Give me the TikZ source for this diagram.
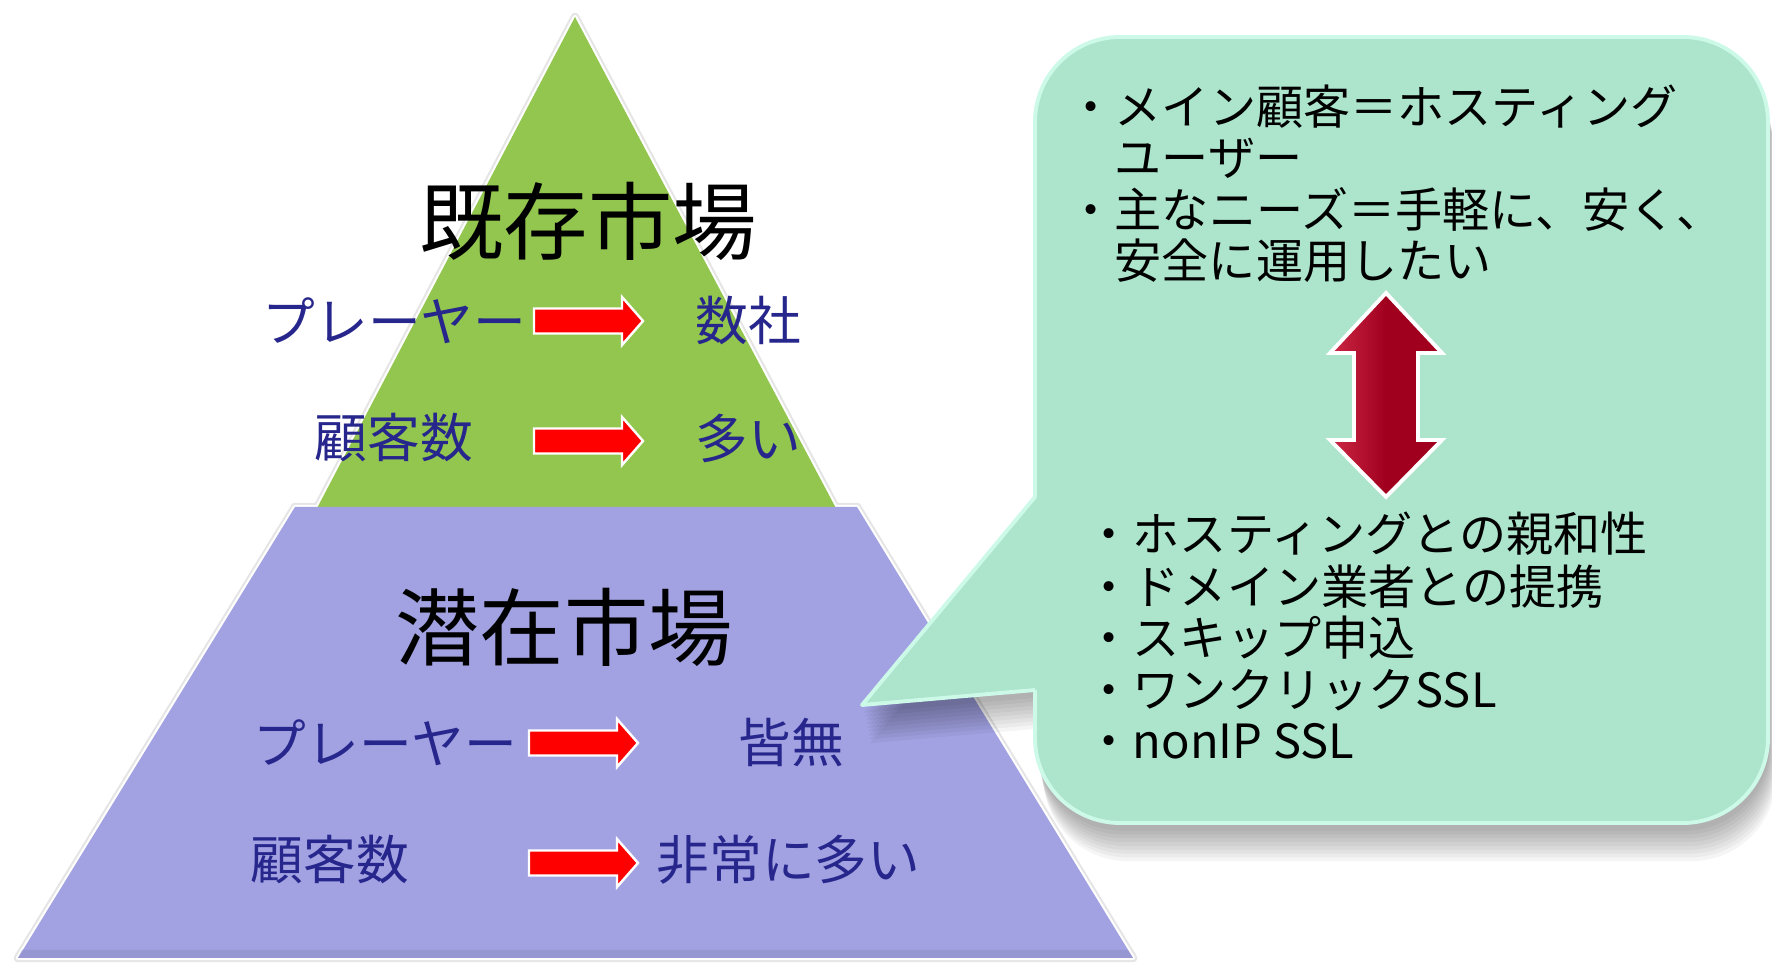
\documentclass[tikz,border=0pt]{standalone}
\usepackage{fontspec}
\newfontfamily\jp{Noto Sans CJK JP}
\definecolor{pgreen}{RGB}{146,198,78}
\definecolor{ppurple}{RGB}{162,162,226}
\definecolor{mint}{RGB}{172,228,204}
\definecolor{mintrim}{RGB}{205,250,232}
\definecolor{navy}{RGB}{38,38,140}
\definecolor{darkred}{RGB}{160,0,30}
\definecolor{lightred}{RGB}{205,40,70}
\begin{document}
\begin{tikzpicture}[x=0.01cm,y=-0.01cm,
  title/.style={font=\jp\fontsize{24}{24}\selectfont, text=black, inner sep=0},
  lbl/.style={font=\jp\fontsize{15}{15}\selectfont, text=navy, inner sep=0, anchor=west},
  item/.style={font=\jp\fontsize{13.4}{13.4}\selectfont, text=black, inner sep=0, anchor=west},
  redarrow/.style={fill=red, draw=white, line width=0.7pt, line join=miter},
  glowline/.style={draw=black!10, line width=2.4pt, line join=round},
  whiteline/.style={draw=white, line width=1.2pt, line join=round},
  calloutpath/.style={insert path={(1035,600) [rounded corners=0.85cm] -- (1035,823) -- (1768,823) -- (1768,37) -- (1035,37) -- (1035,300) [sharp corners] -- (1035,497) -- (862,705) -- (1035,690) -- cycle}},
  calloutrim/.style={insert path={(1035,690) [rounded corners=0.85cm] -- (1035,823) -- (1768,823) -- (1768,37) -- (1035,37) -- (1035,300) [sharp corners] -- (1035,497) -- (862,705) -- (1035,690)}}
]
\useasboundingbox (0,0) rectangle (1772,971);

% ---- pyramid outlines (glow + white rim)
\path[glowline] (295,507) -- (857,507) -- (1133,958) -- (18,958) -- cycle;
\path[glowline] (575,17) -- (838,512) -- (315,512) -- cycle;
\path[whiteline] (295,507) -- (857,507) -- (1133,958) -- (18,958) -- cycle;
\path[whiteline] (575,17) -- (838,512) -- (315,512) -- cycle;
% ---- fills
\fill[pgreen] (575,17) -- (838,512) -- (315,512) -- cycle;
\fill[ppurple] (295,507) -- (857,507) -- (1133,958) -- (18,958) -- cycle;
\fill[ppurple!80!black, opacity=0.35] (22,950) -- (1128,950) -- (1133,958) -- (18,958) -- cycle;

% ---- titles
\node[title] (kizon) at (588,221) {既存市場};
\node[title] (senzai) at (564,627) {潜在市場};

% ---- labels
\node[lbl] (pl1) at (262,321) {プレーヤー};
\node[lbl] (sus) at (695,321) {数社};
\node[lbl] (kk1) at (314,438) {顧客数};
\node[lbl] (ooi) at (695,438) {多い};
\node[lbl] (pl2) at (253,743) {プレーヤー};
\node[lbl] (kaimu) at (738,743) {皆無};
\node[lbl] (kk2) at (250,860) {顧客数};
\node[lbl] (hijo) at (656,860) {非常に多い};

% ---- red block arrows
\newcommand\redarr[3]{\draw[redarrow] (#1,#3) ++(0,-12.5) -- ++({#2-#1-21},0) -- ++(0,-11.5) -- ++(21,24) -- ++(-21,24) -- ++(0,-11.5) -- ++({-(#2-#1-21)},0) -- cycle;}
\redarr{534}{643}{321}
\redarr{534}{643}{441}
\redarr{529}{638}{743}
\redarr{529}{638}{863}

% ---- callout shadow
\foreach \i in {1,...,9}{
  \fill[black, opacity=0.04, shift={({1+0.8*\i},{4+3.8*\i})}, calloutpath];
}
% ---- callout
\fill[mint, calloutpath];
\draw[mintrim, line width=1.1pt, line join=round, calloutrim];

% ---- double arrow
\draw[draw=white, line width=1.1pt, line join=miter, left color=lightred, right color=darkred, middle color=darkred]
  (1386,293) -- (1442,353) -- (1418,353) -- (1418,440) -- (1442,440) -- (1386,497)
  -- (1330,440) -- (1354,440) -- (1354,353) -- (1330,353) -- cycle;

% ---- callout text
\node[item] (c1) at (1067,107) {・メイン顧客＝ホスティング};
\node[item] (c2) at (1114,158) {ユーザー};
\node[item] (c3) at (1067,209) {・主なニーズ＝手軽に、安く、};
\node[item] (c4) at (1114,261) {安全に運用したい};
\node[item] (d1) at (1085,534) {・ホスティングとの親和性};
\node[item] (d2) at (1085,587) {・ドメイン業者との提携};
\node[item] (d3) at (1085,638) {・スキップ申込};
\node[item] (d4) at (1085,690) {・ワンクリックSSL};
\node[item] (d5) at (1085,741) {・nonIP SSL};
\end{tikzpicture}
\end{document}
